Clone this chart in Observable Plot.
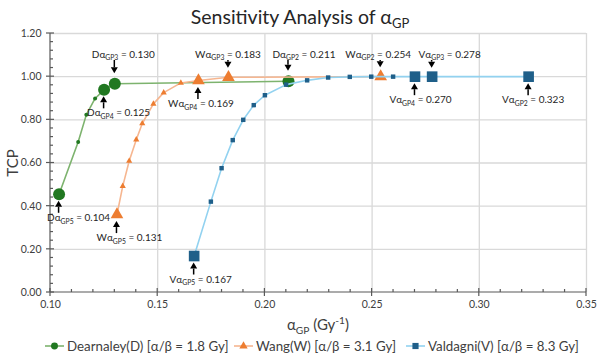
<!DOCTYPE html>
<html>
<head>
<meta charset="utf-8">
<script src="https://cdn.jsdelivr.net/npm/d3@7"></script>
<script src="https://cdn.jsdelivr.net/npm/@observablehq/plot@0.6"></script>
<style>
  html, body { margin: 0; padding: 0; background: #fff; }
  #chart { position: relative; width: 600px; height: 354px; font-family: Lato, "Open Sans", sans-serif; color: #404040; overflow: hidden; }
  #title { position: absolute; left: 0; top: 4px; width: 600px; text-align: center; font-size: 19.5px; line-height: 26px; color: #262626; }
  #title sub { font-size: 13px; vertical-align: -4px; line-height: 0; }
  #plot { position: absolute; left: 0; top: 30px; }
  #plot svg { overflow: visible; }
  #legend { position: absolute; left: 0; top: 338px; width: 600px; height: 16px; font-size: 13.3px; color: #404040; }
  .item { position: absolute; top: 0; height: 16px; line-height: 16px; white-space: nowrap; }
  .item svg { position: absolute; top: 3px; }
</style>
</head>
<body>
<div id="chart">
  <div id="title">Sensitivity Analysis of α<sub>GP</sub></div>
  <div id="plot"></div>
  <div id="legend"></div>
</div>
<script>
// Axis ticks
const xTicks = [0.10, 0.15, 0.20, 0.25, 0.30, 0.35];
const yTicks = [0.00, 0.20, 0.40, 0.60, 0.80, 1.00, 1.20];

// Series
const seriesLetters = ["D", "W", "V"];
const seriesNames = ["Dearnaley(D) [α/β = 1.8 Gy]", "Wang(W) [α/β = 3.1 Gy]", "Valdagni(V) [α/β = 8.3 Gy]"];

// Dearnaley, α/β = 1.8 Gy
const dAlpha = [0.104, 0.1129, 0.1167, 0.1208, 0.125, 0.130, 0.211];
const dTCP   = [0.455, 0.697, 0.823, 0.899, 0.939, 0.967, 0.979];
const dGP    = ["GP5", "", "", "", "GP4", "GP3", "GP2"];

// Wang, α/β = 3.1 Gy
const wAlpha = [0.131, 0.1337, 0.1367, 0.1400, 0.1428, 0.1480, 0.1528, 0.1608, 0.169, 0.183, 0.254];
const wTCP   = [0.361, 0.493, 0.609, 0.708, 0.783, 0.874, 0.926, 0.971, 0.982, 0.997, 1.000];
const wGP    = ["GP5", "", "", "", "", "", "", "", "GP4", "GP3", "GP2"];

// Valdagni, α/β = 8.3 Gy
const vAlpha = [0.167, 0.1748, 0.1798, 0.1850, 0.1899, 0.1948, 0.2000, 0.2099, 0.2197, 0.2295, 0.2396, 0.2496, 0.2598, 0.270, 0.278, 0.323];
const vTCP   = [0.169, 0.421, 0.576, 0.706, 0.800, 0.868, 0.914, 0.963, 0.983, 0.996, 0.999, 1.000, 1.000, 1.000, 1.000, 1.000];
const vGP    = ["GP5", "", "", "", "", "", "", "", "", "", "", "", "", "GP4", "GP3", "GP2"];

// Styling per series (gap: distance from marker centre to an arrow tip above it)
const styles = {
  D: {symbol: "circle",   marker: "#217821", line: "#7db36e", rBig: 6,   rSmall: 2,   gap: 10},
  W: {symbol: "triangle", marker: "#ed7d31", line: "#f6b690", rBig: 4.7, rSmall: 2.3, gap: 9},
  V: {symbol: "square",   marker: "#1f5f89", line: "#92d2f0", rBig: 6,   rSmall: 2.5, gap: 8.5}
};

// Callout placement: side of the marker and horizontal shift of the text (px)
const callouts = {
  D: {GP5: ["below", 20], GP4: ["below", 15], GP3: ["above", 9],  GP2: ["above", 16]},
  W: {GP5: ["below", 13], GP4: ["below", 3],  GP3: ["above", 0],  GP2: ["above", -2]},
  V: {GP5: ["below", 7],  GP4: ["below", 6],  GP3: ["above", 18], GP2: ["below", 5]}
};

const columns = {D: [dAlpha, dTCP, dGP], W: [wAlpha, wTCP, wGP], V: [vAlpha, vTCP, vGP]};
const points = seriesLetters.flatMap(s => {
  const [A, T, G] = columns[s];
  return A.map((a, i) => ({series: s, alpha: a, tcp: T[i], gp: G[i]}));
});

// Text with sub/superscript parts inside the SVG
function richText(g, x, y, parts, size, anchor = "middle", fill = "#262626") {
  const t = g.append("text")
    .attr("x", x).attr("y", y)
    .attr("text-anchor", anchor)
    .attr("font-size", size)
    .attr("fill", fill)
    .style("white-space", "pre");
  let shift = 0;
  for (const p of parts) {
    const target = p.sub ? size * 0.28 : p.sup ? -size * 0.38 : 0;
    const sp = t.append("tspan").attr("dy", target - shift).text(p.text);
    if (p.sub || p.sup) sp.attr("font-size", size * 0.68);
    shift = target;
  }
  return t;
}

// Axis lines with crossing major ticks and inside minor ticks
function axisFrame(index, {x, y}) {
  const g = d3.create("svg:g").attr("stroke", "#595959").attr("stroke-width", 1.2);
  const x0 = x(0.10), x1 = x(0.35), y0 = y(0), y1 = y(1.2);
  g.append("line").attr("x1", x0).attr("x2", x1).attr("y1", y0).attr("y2", y0);
  g.append("line").attr("x1", x0).attr("x2", x0).attr("y1", y0).attr("y2", y1);
  for (const t of xTicks) {
    g.append("line").attr("x1", x(t)).attr("x2", x(t)).attr("y1", y0 - 4).attr("y2", y0 + 4);
  }
  for (const t of d3.range(11, 35).map(d => d / 100)) {
    if (Math.round(t * 100) % 5 === 0) continue;
    g.append("line").attr("x1", x(t)).attr("x2", x(t)).attr("y1", y0 - 3).attr("y2", y0);
  }
  for (const t of yTicks) {
    g.append("line").attr("x1", x0 - 4).attr("x2", x0 + 4).attr("y1", y(t)).attr("y2", y(t));
  }
  for (const t of d3.range(1, 30).map(d => d * 0.04)) {
    if (Math.round(t * 100) % 20 === 0) continue;
    g.append("line").attr("x1", x0).attr("x2", x0 + 3).attr("y1", y(t)).attr("y2", y(t));
  }
  return g.node();
}

// x-axis title: α_GP (Gy^-1)
function xTitle(index, scales, values, {width, height, marginLeft, marginRight}) {
  const g = d3.create("svg:g");
  const cx = (marginLeft + width - marginRight) / 2;
  richText(g, cx, height - 7, [
    {text: "α"}, {text: "GP", sub: true}, {text: " (Gy"}, {text: "-1", sup: true}, {text: ")"}
  ], 15, "middle", "#404040");
  return g.node();
}

// Arrow callouts naming each α_GP value; the upper ones share one text row
function calloutMark(index, {x, y}) {
  const g = d3.create("svg:g");
  const topRow = y(1.2) + 24.5;
  for (const d of points.filter(p => p.gp)) {
    const [side, dx] = callouts[d.series][d.gp];
    const px = x(d.alpha), py = y(d.tcp);
    const above = side === "above";
    const tip = above ? py - styles[d.series].gap : py + 7;
    const tail = above ? topRow + 2.5 : py + 19;
    const base = above ? tip - 6 : tip + 6;
    g.append("line").attr("x1", px).attr("x2", px).attr("y1", tail).attr("y2", base)
      .attr("stroke", "#000").attr("stroke-width", 1.5);
    g.append("path").attr("d", `M${px},${tip}L${px - 3.5},${base}L${px + 3.5},${base}Z`).attr("fill", "#000");
    const ty = above ? topRow : py + 27;
    richText(g, px + dx, ty, [
      {text: d.series + "α"}, {text: d.gp, sub: true}, {text: " = " + d.alpha.toFixed(3)}
    ], 10);
  }
  return g.node();
}

const seriesMarks = seriesLetters.flatMap(s => {
  const st = styles[s];
  const data = points.filter(d => d.series === s);
  return [
    Plot.line(data, {x: "alpha", y: "tcp", stroke: st.line, strokeWidth: 1.6}),
    Plot.dot(data.filter(d => !d.gp), {x: "alpha", y: "tcp", symbol: st.symbol, r: st.rSmall, fill: st.marker}),
    Plot.dot(data.filter(d => d.gp), {x: "alpha", y: "tcp", symbol: st.symbol, r: st.rBig, fill: st.marker})
  ];
});

const chart = Plot.plot({
  width: 600,
  height: 307,
  marginLeft: 50,
  marginRight: 14,
  marginTop: 3,
  marginBottom: 45,
  style: {fontFamily: "Lato, 'Open Sans', sans-serif", fontSize: "10.5px", color: "#404040", background: "transparent", overflow: "visible"},
  x: {domain: [0.10, 0.35]},
  y: {domain: [0, 1.2]},
  marks: [
    Plot.ruleX(xTicks.slice(1), {stroke: "#d9d9d9", strokeWidth: 1.3}),
    Plot.ruleY(yTicks.slice(1), {stroke: "#d9d9d9", strokeWidth: 1.3}),
    Plot.axisX({ticks: xTicks, tickFormat: d3.format(".2f"), tickSize: 0, tickPadding: 8, label: null}),
    Plot.axisY({ticks: yTicks, tickFormat: d3.format(".2f"), tickSize: 0, tickPadding: 9, label: null}),
    axisFrame,
    Plot.text(["TCP"], {text: d => d, frameAnchor: "left", dx: -37, rotate: -90, textAnchor: "middle", lineAnchor: "middle", fontSize: 15, fill: "#404040"}),
    xTitle,
    ...seriesMarks,
    calloutMark
  ]
});
document.getElementById("plot").appendChild(chart);

// Legend below the plot
const legendStarts = [67, 256, 428];
const legend = d3.select("#legend");
seriesLetters.forEach((s, i) => {
  const st = styles[s];
  const item = legend.append("div").attr("class", "item").style("left", (legendStarts[i] - 22) + "px").style("padding-left", "22px");
  const svg = item.append("svg").attr("width", 19).attr("height", 10).style("left", "0px");
  svg.append("line").attr("x1", 0).attr("x2", 19).attr("y1", 5).attr("y2", 5).attr("stroke", st.line).attr("stroke-width", 1.6);
  svg.append("path").attr("transform", "translate(9.5,5)")
    .attr("d", d3.symbol(s === "D" ? d3.symbolCircle : s === "W" ? d3.symbolTriangle : d3.symbolSquare, s === "W" ? 30 : 38)())
    .attr("fill", st.marker);
  item.append("span").text(seriesNames[i]);
});
</script>
</body>
</html>
